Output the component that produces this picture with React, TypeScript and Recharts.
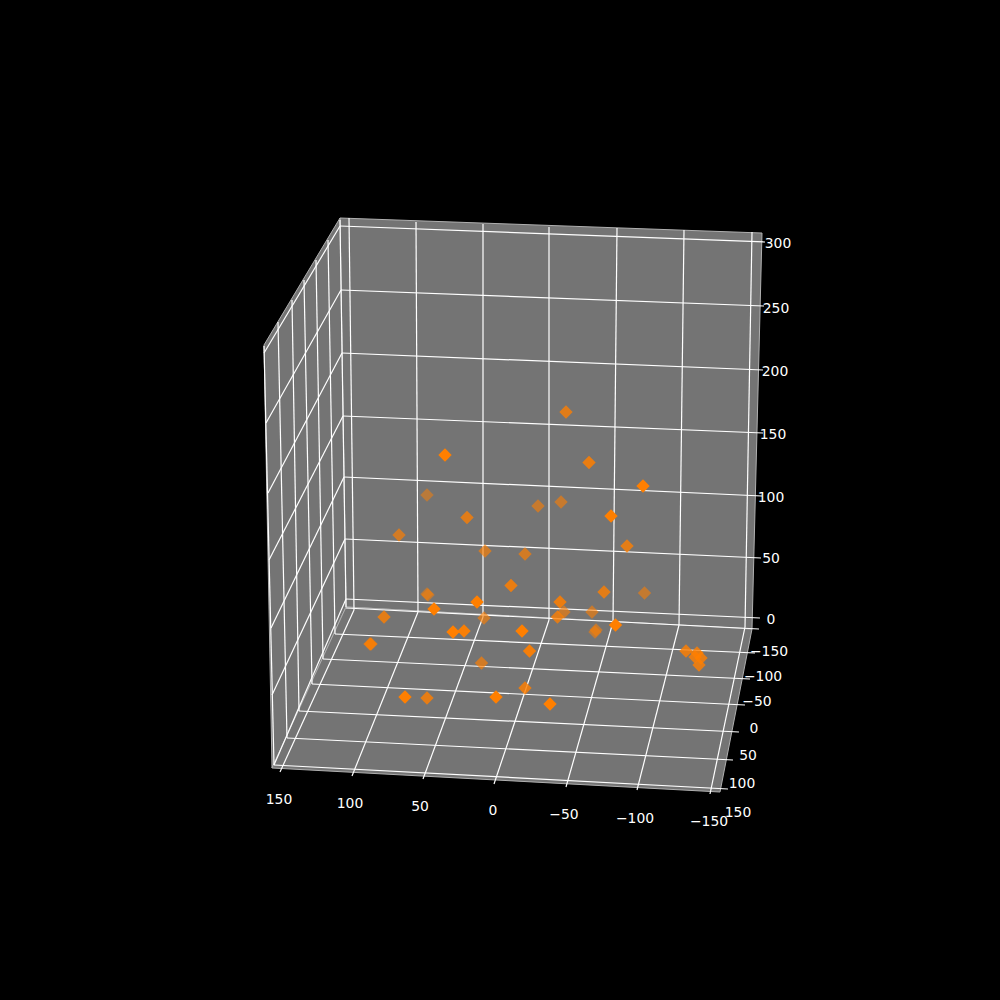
import React from "react";
import { ScatterChart, Scatter, XAxis, YAxis } from "recharts";

type P = { x: number; y: number };
const pair = (s: number[]): P[] => [{ x: s[0], y: s[1] }, { x: s[2], y: s[3] }];

// Projected marker positions
const pointX = [566,445,589,643,427,467,538,561,611,399,627,485,525,511,427,428,604,644.5,477,434,560,592,557.5,564,484,384,453,464,522,596,595,615.5,370,371,529.5,481.5,686,697,695,701,699,525,405,427,496,550];
const pointY = [412,455,462.5,486,495,517.5,506,502,516,535,546,551,554,585.5,594,595,592,593,602,609,602,612,617,612,618,617,632,631,631,630,632,625,644,644,651,663,651,653,657,658,665,688,697,698,697,704];
const pointAlpha = [0.78,1,0.85,1,0.5,0.78,0.6,0.6,1,0.68,0.8,0.65,0.68,0.85,0.5,0.5,0.8,0.58,1,1,0.85,0.6,0.78,0.6,0.62,0.8,1,0.95,1,0.55,0.55,1,0.75,0.75,0.92,0.68,0.82,0.82,0.82,0.82,0.82,0.82,1,0.82,1,1];

// Panes of the box
const backPane = [[340,218],[762,233],[752,629],[346,607],[340,218]];
const leftPane = [[340,218],[264,345],[272,768],[346,607],[340,218]];
const floorPane = [[346,607],[752,629],[720,792],[272,768],[346,607]];

// Grid lines (from x, from y, to x, to y)
const backHorizontal = [[346,599,760,618],[345,539,761,558],[344,477,762,496],[343,416,763,433],[342,353,763,370],[341,290,764,306],[340,226,765,242]];
const backVertical = [[349,218,354,610],[416,222,418,612],[483,224,483,617],[549,227,549,620],[617,228,613,622],[684,230,679,625],[752,232,745,627]];
const leftHorizontal = [[346,599,274,765],[345,539,272,695],[344,477,271,628],[343,416,269,560],[342,353,268,493],[341,290,266,423],[340,226,264,353]];
const leftVertical = [[340,220,346,607],[328,240,335,634],[316,260,323,659],[304,280,312,684],[292,300,299,711],[278,322,287,738],[264,346,274,765]];
const floorAcross = [[346,608,759,629],[335,634,755,653],[323,659,750,679],[312,684,745,705],[299,711,739,732],[287,738,733,760],[274,765,728,789]];
const floorDepth = [[354,610,280,772],[418,612,352,776],[483,617,423,779],[549,620,494,784],[613,622,566,787],[679,625,637,790],[745,627,710,794]];

// Tick labels
const zTicks = ["0","50","100","150","200","250","300"];
const zTickX = [771,771,771,773,775,776,778];
const zTickY = [619,558,497,434,371,308,243];
const yTicks = ["\u2212150","\u2212100","\u221250","0","50","100","150"];
const yTickX = [769,763,757,754,748,742,738];
const yTickY = [651,676,701,728,755,783,812];
const xTicks = ["150","100","50","0","\u221250","\u2212100","\u2212150"];
const xTickX = [279,350,420,493,564,635,709];
const xTickY = [799,803,806,810,814,818,821];

const points = pointX
  .map((x, i) => ({ x, y: pointY[i], alpha: pointAlpha[i] }))
  .sort((a, b) => a.alpha - b.alpha);

const labels = [
  ...zTicks.map((text, i) => ({ x: zTickX[i], y: zTickY[i], text })),
  ...yTicks.map((text, i) => ({ x: yTickX[i], y: yTickY[i], text })),
  ...xTicks.map((text, i) => ({ x: xTickX[i], y: xTickY[i], text })),
];

const noMark = () => null;

const Diamond = (p: any) => {
  const r = 6.7;
  const { cx, cy } = p;
  return (
    <polygon
      points={`${cx},${cy - r} ${cx + r},${cy} ${cx},${cy + r} ${cx - r},${cy}`}
      fill="#ff7f00"
      fillOpacity={p.payload.alpha}
    />
  );
};

const TickText = (p: any) => (
  <text
    x={p.cx}
    y={p.cy}
    textAnchor="middle"
    dominantBaseline="central"
    fill="#ffffff"
    fontSize={13.9}
    fontFamily="'DejaVu Sans'"
  >
    {p.payload.text}
  </text>
);

const pane = (c: number[][], key: string) => (
  <Scatter
    key={key}
    data={c.map(([x, y]) => ({ x, y }))}
    shape={noMark}
    line={{ fill: "#747474", stroke: "#b0b0b0", strokeWidth: 1 }}
    isAnimationActive={false}
  />
);

const gridGroup = (g: number[][], key: string) =>
  g.map((s, i) => (
    <Scatter
      key={key + i}
      data={pair(s)}
      shape={noMark}
      line={{ stroke: "#ffffff", strokeWidth: 1.2, strokeOpacity: 1 }}
      isAnimationActive={false}
    />
  ));

export default function App() {
  return (
    <div style={{ position: "absolute", left: 0, top: 0, width: 1000, height: 1000, background: "#000" }}>
      <ScatterChart width={1000} height={1000} margin={{ top: 0, right: 0, bottom: 0, left: 0 }}>
        <XAxis type="number" dataKey="x" domain={[0, 1000]} hide />
        <YAxis type="number" dataKey="y" domain={[0, 1000]} reversed hide />
        {pane(backPane, "back")}
        {pane(leftPane, "left")}
        {pane(floorPane, "floor")}
        {gridGroup(backHorizontal, "bh")}
        {gridGroup(backVertical, "bv")}
        {gridGroup(leftHorizontal, "lh")}
        {gridGroup(leftVertical, "lv")}
        {gridGroup(floorAcross, "fa")}
        {gridGroup(floorDepth, "fd")}
        <Scatter data={points} shape={Diamond} isAnimationActive={false} />
        <Scatter data={labels} shape={TickText} isAnimationActive={false} />
      </ScatterChart>
    </div>
  );
}
